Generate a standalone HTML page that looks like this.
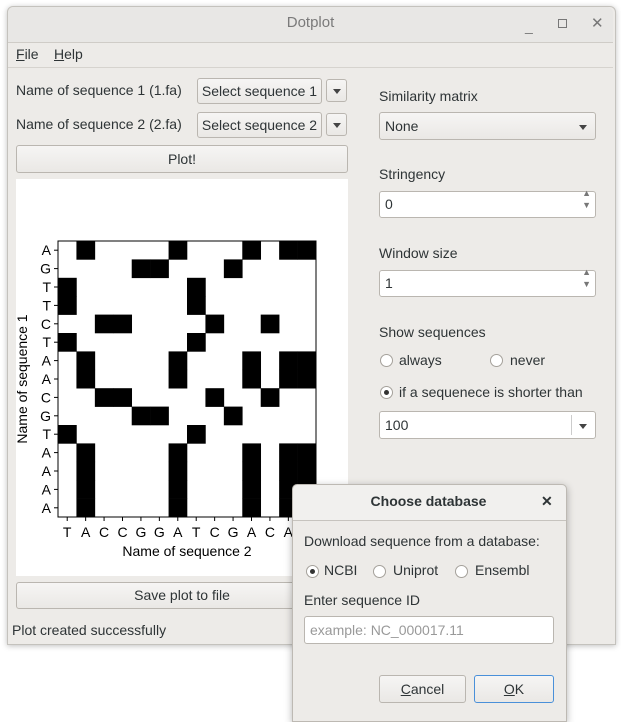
<!DOCTYPE html>
<html><head><meta charset="utf-8"><style>
body{margin:0;width:621px;height:722px;background:#fff;position:relative;overflow:hidden;font-family:"Liberation Sans",sans-serif;font-size:14px;color:#2e3436}
.a{position:absolute;white-space:nowrap}
.win{left:7px;top:6px;width:607px;height:637px;background:#edebe8;border:1px solid #c4c2bd;border-radius:6px 6px 0 0;box-shadow:0 1px 6px rgba(0,0,0,.25)}
.btn{background:linear-gradient(#f6f5f4,#eae8e5);border:1px solid #bab6b0;border-radius:3px;text-align:center;box-sizing:border-box}
.inp{background:#fff;border:1px solid #bab6b0;border-radius:3px;box-sizing:border-box;padding-left:5px}
.radio{width:13px;height:13px;border:1px solid #a5a19b;border-radius:50%;background:#fff;box-sizing:border-box}
.dot{width:5px;height:5px;background:#333;border-radius:50%;margin:3px}
.arr{width:0;height:0;border-left:4px solid transparent;border-right:4px solid transparent;border-top:5px solid #444}
</style></head><body>
<div class="a win"></div>
<div class="a" style="left:8px;top:7px;width:605px;height:35px;background:#e8e7e5;border-bottom:1px solid #cfccc7;border-radius:6px 6px 0 0"></div>
<div class="a" style="left:0;width:621px;top:14px;text-align:center;color:#7a7a7a;font-size:15px">Dotplot</div>
<div class="a" style="left:525px;top:18px;color:#777">_</div>
<div class="a" style="left:558px;top:19px;width:7px;height:7px;border:1px solid #777"></div>
<div class="a" style="left:591px;top:14px;color:#777;font-size:15px">✕</div>
<div class="a" style="left:8px;top:67px;width:605px;border-top:1px solid #d6d3ce"></div>
<div class="a" style="left:16px;top:46px;font-size:14px"><u>F</u>ile</div>
<div class="a" style="left:54px;top:46px;font-size:14px"><u>H</u>elp</div>

<div class="a" style="left:16px;top:82px">Name of sequence 1 (1.fa)</div>
<div class="a btn" style="left:197px;top:78px;width:125px;height:26px;line-height:24px">Select sequence 1</div>
<div class="a btn" style="left:326px;top:79px;width:21px;height:23px"><div class="arr" style="margin:9px 0 0 6px"></div></div>
<div class="a" style="left:16px;top:116px">Name of sequence 2 (2.fa)</div>
<div class="a btn" style="left:197px;top:112px;width:125px;height:26px;line-height:24px">Select sequence 2</div>
<div class="a btn" style="left:326px;top:113px;width:21px;height:23px"><div class="arr" style="margin:9px 0 0 6px"></div></div>
<div class="a btn" style="left:16px;top:145px;width:332px;height:28px;line-height:26px">Plot!</div>

<svg class="a" style="left:16px;top:179px" width="332" height="397">
<rect width="332" height="397" fill="#fff"/>
<g id="g" transform="translate(-16,-179)"></g>
</svg>

<div class="a btn" style="left:16px;top:582px;width:332px;height:27px;line-height:25px">Save plot to file</div>
<div class="a" style="left:12px;top:622px">Plot created successfully</div>

<div class="a" style="left:379px;top:88px">Similarity matrix</div>
<div class="a btn" style="left:379px;top:112px;width:217px;height:28px;line-height:26px;text-align:left;padding-left:5px">None<div class="arr" style="position:absolute;right:8px;top:12px"></div></div>
<div class="a" style="left:379px;top:166px">Stringency</div>
<div class="a inp" style="left:379px;top:191px;width:217px;height:27px;line-height:25px">0<span style="position:absolute;right:4px;top:-5px;font-size:9px;color:#777;line-height:12px">▲<br>▼</span></div>
<div class="a" style="left:379px;top:245px">Window size</div>
<div class="a inp" style="left:379px;top:270px;width:217px;height:27px;line-height:25px">1<span style="position:absolute;right:4px;top:-5px;font-size:9px;color:#777;line-height:12px">▲<br>▼</span></div>
<div class="a" style="left:379px;top:324px">Show sequences</div>
<div class="a radio" style="left:380px;top:354px"></div>
<div class="a" style="left:399px;top:352px">always</div>
<div class="a radio" style="left:490px;top:354px"></div>
<div class="a" style="left:510px;top:352px">never</div>
<div class="a radio" style="left:380px;top:386px"><div class="dot" style="margin:3px"></div></div>
<div class="a" style="left:399px;top:384px">if a sequenece is shorter than</div>
<div class="a inp" style="left:379px;top:411px;width:217px;height:28px;line-height:26px">100<div style="position:absolute;right:23px;top:3px;height:20px;border-left:1px solid #ccc"></div><div class="arr" style="position:absolute;right:8px;top:12px"></div></div>

<div class="a" style="left:292px;top:484px;width:273px;height:236px;background:#edebe8;border:1px solid #bdb9b3;border-radius:5px 5px 0 0;box-shadow:0 2px 8px rgba(0,0,0,.3)"></div>
<div class="a" style="left:293px;top:485px;width:273px;height:35px;background:#f1f0ee;border-bottom:1px solid #c6c3be;border-radius:5px 5px 0 0"></div>
<div class="a" style="left:292px;width:273px;top:493px;text-align:center;font-weight:bold;font-size:14px">Choose database</div>
<div class="a" style="left:541px;top:493px;font-weight:bold">✕</div>
<div class="a" style="left:304px;top:533px">Download sequence from a database:</div>
<div class="a radio" style="left:306px;top:565px"><div class="dot"></div></div>
<div class="a" style="left:324px;top:562px">NCBI</div>
<div class="a radio" style="left:373px;top:565px"></div>
<div class="a" style="left:393px;top:562px">Uniprot</div>
<div class="a radio" style="left:455px;top:565px"></div>
<div class="a" style="left:475px;top:562px">Ensembl</div>
<div class="a" style="left:304px;top:592px">Enter sequence ID</div>
<div class="a inp" style="left:304px;top:616px;width:250px;height:28px;line-height:26px;color:#999">example: NC_000017.11</div>
<div class="a btn" style="left:379px;top:675px;width:87px;height:28px;line-height:26px"><u>C</u>ancel</div>
<div class="a btn" style="left:474px;top:675px;width:80px;height:28px;line-height:26px;border-color:#4a90d9"><u>O</u>K</div>

<script>
const seq1 = ["A","G","T","T","C","T","A","A","C","G","T","A","A","A","A"];
const seq2 = ["T","A","C","C","G","G","A","T","C","G","A","C","A","A"];
const NS="http://www.w3.org/2000/svg";
const g=document.getElementById('g');
const x0=58,y0=241,w=258,h=276;
const cw=w/seq2.length, ch=h/seq1.length;
const xs=j=>x0+j*cw, ys=i=>y0+i*ch;
function mk(t,a){const e=document.createElementNS(NS,t);for(const k in a)e.setAttribute(k,a[k]);g.appendChild(e);return e;}
seq1.forEach((a,i)=>seq2.forEach((b,j)=>{if(a===b){
 const r=mk('rect',{x:xs(j),y:ys(i),width:cw+0.3,height:ch+0.3,fill:'#000'});
 
 
}}));
const fr=mk('rect',{x:x0,y:y0,width:w,height:h,fill:'none',stroke:'#000','stroke-width':1});


seq1.forEach((a,i)=>{
 mk('line',{x1:x0-4,x2:x0,y1:ys(i)+ch/2,y2:ys(i)+ch/2,stroke:'#000'});
 const t=mk('text',{x:x0-7,y:ys(i)+ch/2+5,'text-anchor':'end','font-size':14,fill:'#000','font-family':'Liberation Sans'});
 t.textContent=a;
 
 
});
seq2.forEach((b,j)=>{
 mk('line',{x1:xs(j)+cw/2,x2:xs(j)+cw/2,y1:y0+h,y2:y0+h+4,stroke:'#000'});
 const t=mk('text',{x:xs(j)+cw/2,y:y0+h+20,'text-anchor':'middle','font-size':14,fill:'#000','font-family':'Liberation Sans'});
 t.textContent=b;
 
 
});
const xt=mk('text',{x:x0+w/2,y:556,'text-anchor':'middle','font-size':14,fill:'#000','font-family':'Liberation Sans'});
xt.textContent='Name of sequence 2';


const yt=mk('text',{x:0,y:0,'text-anchor':'middle','font-size':14,fill:'#000','font-family':'Liberation Sans',transform:`translate(27,${y0+h/2}) rotate(-90)`});
yt.textContent='Name of sequence 1';


</script>
</body></html>
